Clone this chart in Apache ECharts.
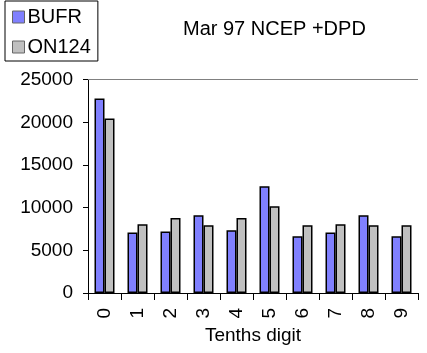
<!DOCTYPE html>
<html>
<head>
<meta charset="utf-8">
<script src="https://cdn.jsdelivr.net/npm/echarts@6/dist/echarts.min.js"></script>
<style>
	html, body { margin: 0; padding: 0; background: #fff; }
	#chart { width: 427px; height: 353px; }
</style>
</head>
<body>
<div id="chart"></div>
<script>
var categories = ['0', '1', '2', '3', '4', '5', '6', '7', '8', '9'];
var bufrValues = [22800, 7100, 7200, 9100, 7350, 12500, 6650, 7100, 9100, 6650];
var on124Values = [20450, 8050, 8800, 7950, 8800, 10150, 7950, 8050, 7950, 7950];
var yTicks = { min: 0, max: 25000, interval: 5000 };

var FONT = 'Liberation Sans, Arial, sans-serif';

var Chart = {
	init: function() {
		var chart = echarts.init(document.getElementById('chart'));
		var option = {
			animation: false,
			textStyle: { fontFamily: FONT, color: '#000' },
			title: {
				text: 'Mar 97 NCEP +DPD',
				left: 183,
				top: 19,
				padding: 0,
				textStyle: { fontFamily: FONT, fontSize: 20, fontWeight: 'normal', color: '#000' }
			},
			legend: {
				orient: 'vertical',
				left: 5,
				top: 1,
				padding: [6, 7, 4, 7],
				itemGap: 10,
				itemWidth: 12,
				itemHeight: 12,
				icon: 'rect',
				itemStyle: { borderWidth: 1, borderColor: '#666' },
				borderColor: '#000',
				borderWidth: 1,
				textStyle: { fontFamily: FONT, fontSize: 20, color: '#000', padding: [0, 0, 0, -2] },
				data: ['BUFR', 'ON124']
			},
			grid: {
				left: 88,
				right: 9,
				top: 79.6,
				bottom: 60,
				containLabel: false
			},
			xAxis: {
				type: 'category',
				data: categories,
				name: 'Tenths digit',
				nameLocation: 'middle',
				nameGap: 32,
				nameTextStyle: { fontFamily: FONT, fontSize: 19, color: '#000' },
				axisLine: { lineStyle: { color: '#000', width: 1 } },
				axisTick: { show: true, length: 7, lineStyle: { color: '#000' } },
				axisLabel: { rotate: 90, margin: 15, fontFamily: FONT, fontSize: 19, color: '#000' }
			},
			yAxis: {
				type: 'value',
				min: yTicks.min,
				max: yTicks.max,
				interval: yTicks.interval,
				axisLine: { show: true, lineStyle: { color: '#000', width: 1 } },
				axisTick: { show: true, length: 5, lineStyle: { color: '#000' } },
				axisLabel: {
					margin: 15,
					fontFamily: FONT,
					fontSize: 19,
					color: '#000',
					formatter: function(v) { return String(v); }
				},
				splitLine: { show: false }
			},
			series: [{
				name: 'BUFR',
				type: 'bar',
				data: bufrValues,
				barWidth: 10,
				barGap: '0%',
				itemStyle: { color: '#8080FF', borderColor: '#000', borderWidth: 1.5 },
				markLine: {
					silent: true,
					symbol: 'none',
					label: { show: false },
					lineStyle: { color: '#808080', type: 'solid', width: 1 },
					data: [{ yAxis: yTicks.max }]
				}
			}, {
				name: 'ON124',
				type: 'bar',
				data: on124Values,
				barWidth: 10,
				barGap: '0%',
				itemStyle: { color: '#C0C0C0', borderColor: '#000', borderWidth: 1.5 }
			}]
		};
		chart.setOption(option);
	}
};
Chart.init();
</script>
</body>
</html>
